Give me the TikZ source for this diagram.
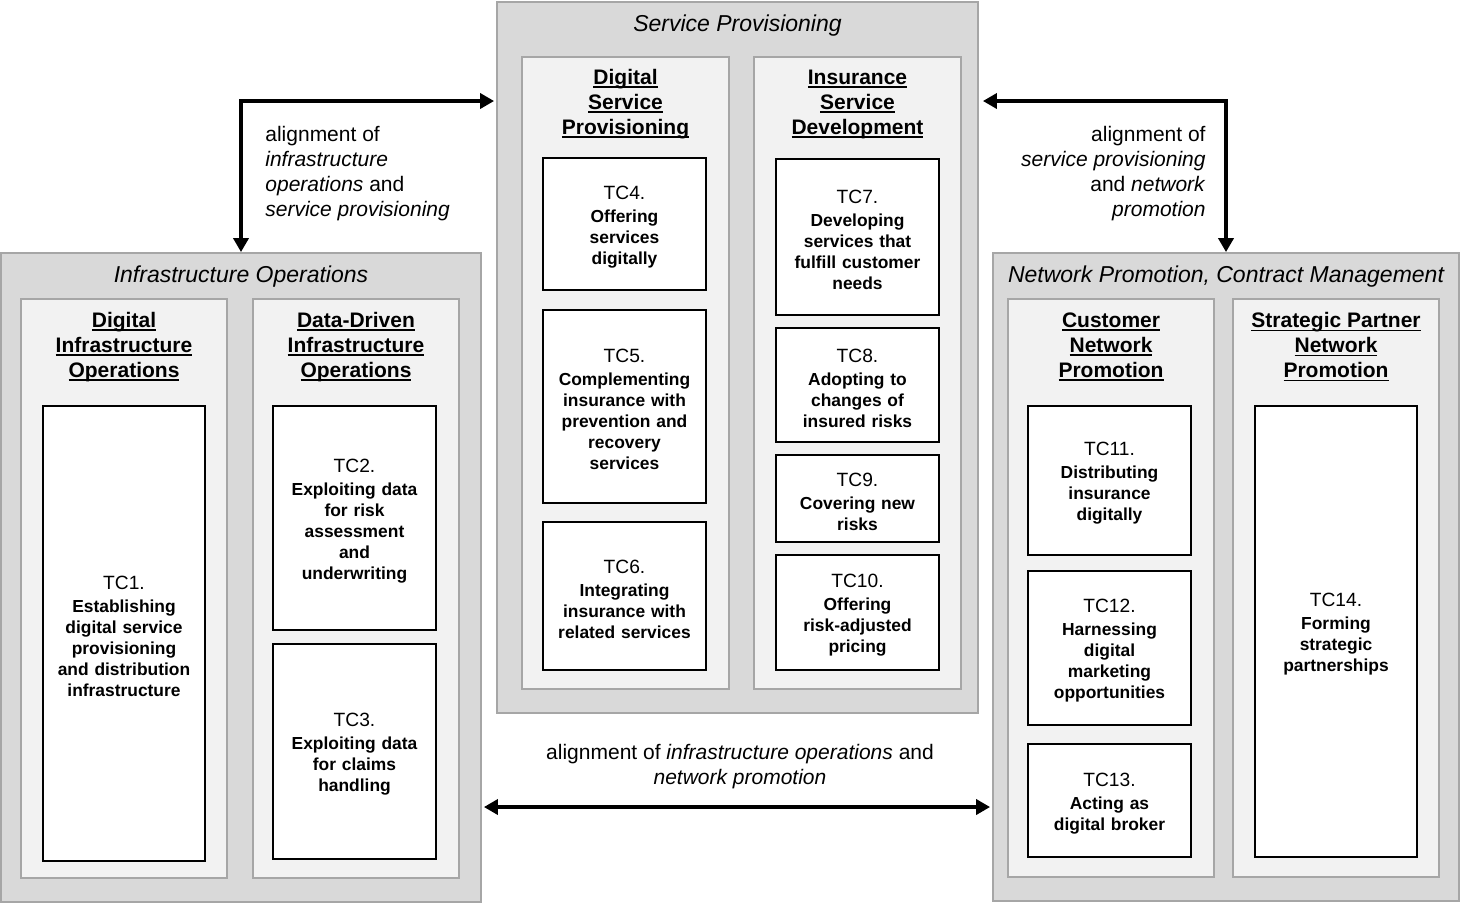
\documentclass[tikz,border=0pt]{standalone}
\usepackage{fontspec}
\setmainfont{Liberation Sans}
\usetikzlibrary{arrows.meta,fit}
\definecolor{outerfill}{HTML}{D9D9D9}
\definecolor{innerfill}{HTML}{F2F2F2}
\definecolor{framegray}{HTML}{A6A6A6}
\newcommand\ulx[1]{\leavevmode{\setbox0\hbox{#1}\rlap{\rule[-1.8pt]{\wd0}{0.9pt}}\box0}}
\newcommand\tcn[1]{{\fontsize{9.6}{11}\selectfont\mdseries #1}\\[1pt]}
\tikzset{
  group/.style={draw=framegray, fill=outerfill, line width=0.9pt, inner sep=0pt},
  panel/.style={draw=framegray, fill=innerfill, line width=0.9pt, inner sep=0pt},
  tcbox/.style={draw=black, fill=white, line width=0.8pt, inner sep=0pt},
  tctext/.style={inner sep=0pt, align=center, text width=80pt,
    font=\fontsize{8.7}{10.5}\selectfont\bfseries, yshift=-1.5pt},
  ptitle/.style={font=\fontsize{10.5}{12.5}\selectfont\bfseries, align=center, inner sep=0pt},
  gtitle/.style={font=\fontsize{11.5}{13}\selectfont\itshape, inner sep=0pt},
  lbl/.style={font=\fontsize{10.5}{12.5}\selectfont, inner sep=0pt},
  arr/.style={{Triangle[length=7pt,width=7.5pt]}-{Triangle[length=7pt,width=7.5pt]}, line width=2pt}
}
\begin{document}
\begin{tikzpicture}[x=0.5pt,y=-0.5pt]
\useasboundingbox (0,0) rectangle (1460,902);
% groups
\node[group, fit={(497,2) (978,713)}] (sp) {};
\node[group, fit={(1,253) (481,902)}] (io) {};
\node[group, fit={(993,253) (1459,901)}] (np) {};
\node[gtitle] (spt) at (737.5,26) {Service Provisioning};
\node[gtitle] (iot) at (241,277) {Infrastructure Operations};
\node[gtitle] (npt) at (1226,277) {Network Promotion, Contract Management};
% panels
\node[panel, fit={(522,57) (729,689)}] (dsp) {};
\node[panel, fit={(754,57) (961,689)}] (isd) {};
\node[panel, fit={(21,299) (227,878)}] (dio) {};
\node[panel, fit={(253,299) (459,878)}] (ddio) {};
\node[panel, fit={(1008,299) (1214,877)}] (cnp) {};
\node[panel, fit={(1233,299) (1439,877)}] (spnp) {};
\node[ptitle] (dspt) at (625.5,104) {\ulx{Digital}\\\ulx{Service}\\\ulx{Provisioning}};
\node[ptitle] (isdt) at (857.5,104) {\ulx{Insurance}\\\ulx{Service}\\\ulx{Development}};
\node[ptitle] (diot) at (124,347) {\ulx{Digital}\\\ulx{Infrastructure}\\\ulx{Operations}};
\node[ptitle] (ddiot) at (356,347) {\ulx{Data-Driven}\\\ulx{Infrastructure}\\\ulx{Operations}};
\node[ptitle] (cnpt) at (1111,347) {\ulx{Customer}\\\ulx{Network}\\\ulx{Promotion}};
\node[ptitle] (spnpt) at (1336,347) {\ulx{Strategic Partner}\\\ulx{Network}\\\ulx{Promotion}};
% boxes
\node[tcbox, fit={(543,158) (706,290)}] (tc4) {};
\node[tcbox, fit={(543,310) (706,503)}] (tc5) {};
\node[tcbox, fit={(543,522) (706,670)}] (tc6) {};
\node[tcbox, fit={(776,159) (939,315)}] (tc7) {};
\node[tcbox, fit={(776,328) (939,442)}] (tc8) {};
\node[tcbox, fit={(776,455) (939,542)}] (tc9) {};
\node[tcbox, fit={(776,555) (939,670)}] (tc10) {};
\node[tcbox, fit={(43,406) (205,861)}] (tc1) {};
\node[tcbox, fit={(273,406) (436,630)}] (tc2) {};
\node[tcbox, fit={(273,644) (436,859)}] (tc3) {};
\node[tcbox, fit={(1028,406) (1191,555)}] (tc11) {};
\node[tcbox, fit={(1028,571) (1191,725)}] (tc12) {};
\node[tcbox, fit={(1028,744) (1191,857)}] (tc13) {};
\node[tcbox, fit={(1255,406) (1417,857)}] (tc14) {};
\node[tctext] (tc4t) at (tc4.center) {\tcn{TC4.}Offering\\services\\digitally};
\node[tctext] (tc5t) at (tc5.center) {\tcn{TC5.}Complementing\\insurance with\\prevention and\\recovery\\services};
\node[tctext] (tc6t) at (tc6.center) {\tcn{TC6.}Integrating\\insurance with\\related services};
\node[tctext] (tc7t) at (tc7.center) {\tcn{TC7.}Developing\\services that\\fulfill customer\\needs};
\node[tctext] (tc8t) at (tc8.center) {\tcn{TC8.}Adopting to\\changes of\\insured risks};
\node[tctext] (tc9t) at (tc9.center) {\tcn{TC9.}Covering new\\risks};
\node[tctext] (tc10t) at (tc10.center) {\tcn{TC10.}Offering\\risk-adjusted\\pricing};
\node[tctext] (tc1t) at (tc1.center) {\tcn{TC1.}Establishing\\digital service\\provisioning\\and distribution\\infrastructure};
\node[tctext] (tc2t) at (tc2.center) {\tcn{TC2.}Exploiting data\\for risk\\assessment\\and\\underwriting};
\node[tctext] (tc3t) at (tc3.center) {\tcn{TC3.}Exploiting data\\for claims\\handling};
\node[tctext] (tc11t) at (tc11.center) {\tcn{TC11.}Distributing\\insurance\\digitally};
\node[tctext] (tc12t) at (tc12.center) {\tcn{TC12.}Harnessing\\digital\\marketing\\opportunities};
\node[tctext] (tc13t) at (tc13.center) {\tcn{TC13.}Acting as\\digital broker};
\node[tctext] (tc14t) at (tc14.center) {\tcn{TC14.}Forming\\strategic\\partnerships};
% connectors
\coordinate (ly) at (0,101);
\coordinate (by) at (0,807);
\draw[arr] (io.north) |- ([xshift=-1pt]sp.west |- ly);
\draw[arr] (np.north) |- ([xshift=2pt]sp.east |- ly);
\draw[arr] ([xshift=1pt]io.east |- by) -- ([xshift=-1pt]np.west |- by);
% labels
\node[lbl, align=left, anchor=west] (l1) at (265,173.5) {alignment of\\\textit{infrastructure}\\\textit{operations} and\\\textit{service provisioning}};
\node[lbl, align=right, anchor=east] (l2) at (1206,173.5) {alignment of\\\textit{service provisioning}\\and \textit{network}\\\textit{promotion}};
\node[lbl, align=center] (l3) at (740,766.5) {alignment of \textit{infrastructure operations} and\\\textit{network promotion}};
\end{tikzpicture}
\end{document}
